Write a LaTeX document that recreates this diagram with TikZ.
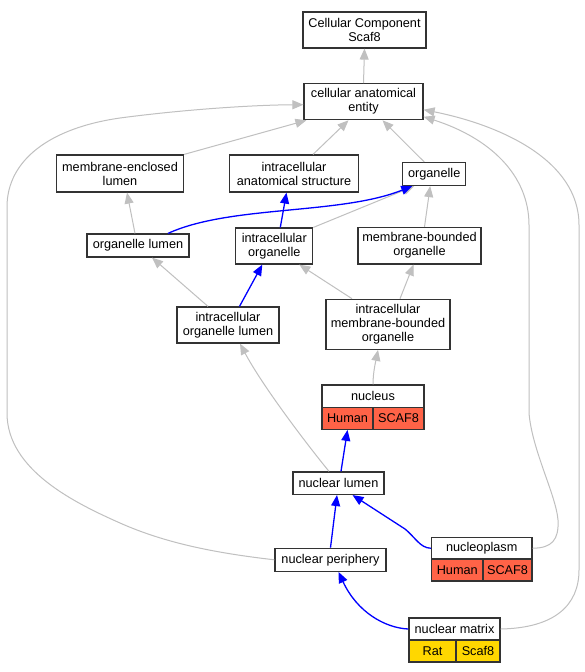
\documentclass[tikz,border=0pt]{standalone}
\usepackage{fontspec}
\setmainfont{Liberation Sans}
\usetikzlibrary{arrows.meta}
\definecolor{edgegray}{HTML}{C0C0C0}
\definecolor{tomatoc}{HTML}{FF6347}
\definecolor{goldc}{HTML}{FFD700}
\definecolor{boxline}{HTML}{333333}
\begin{document}
\begin{tikzpicture}[x=1pt,y=-1pt,
  box/.style={draw=boxline, line width=1.2pt, fill=white, inner sep=0pt, align=center,
    font=\fontsize{12.7}{14}\selectfont},
  cell/.style={box, font=\fontsize{12.7}{14}\selectfont},
  gedge/.style={draw=edgegray, line width=1pt, -{Triangle[length=11pt,width=9pt]}},
  bedge/.style={draw=blue, line width=1.3pt, -{Triangle[length=11pt,width=9pt]}}]
\path[use as bounding box, fill=white] (0,0) rectangle (584,672);

% plain nodes
\node[box, minimum width=123pt, minimum height=36pt] (CC) at (364.5,30) {Cellular Component\\Scaf8};
\node[box, minimum width=119pt, minimum height=36pt] (CAE) at (363.5,101.7) {cellular anatomical\\entity};
\node[box, minimum width=127pt, minimum height=37pt] (MEL) at (120,173.5) {membrane-enclosed\\lumen};
\node[box, minimum width=129pt, minimum height=37pt] (IAS) at (294,173.5) {intracellular\\anatomical structure};
\node[box, minimum width=63pt, minimum height=23pt] (ORG) at (434.2,174) {organelle};
\node[box, minimum width=102pt, minimum height=23pt] (OL) at (138,245.5) {organelle lumen};
\node[box, minimum width=77pt, minimum height=36pt] (IO) at (274.3,246) {intracellular\\organelle};
\node[box, minimum width=123pt, minimum height=36.5pt] (MBO) at (419.5,245.7) {membrane-bounded\\organelle};
\node[box, minimum width=102pt, minimum height=36pt] (IOL) at (228,325) {intracellular\\organelle lumen};
\node[box, minimum width=124pt, minimum height=50pt] (IMBO) at (388,324.3) {intracellular\\membrane-bounded\\organelle};
\node[box, minimum width=91pt, minimum height=22.5pt] (NL) at (338.5,483.2) {nuclear lumen};
\node[box, minimum width=111pt, minimum height=23pt] (NP) at (330.5,559.8) {nuclear periphery};

% table nodes
\node[box, minimum width=102pt, minimum height=22.7pt] (nucT) at (373,396.3) {nucleus};
\node[cell, fill=tomatoc, minimum width=51pt, minimum height=21.6pt] (nucH) at (347.5,418.5) {Human};
\node[cell, fill=tomatoc, minimum width=51pt, minimum height=21.6pt] (nucS) at (398.5,418.5) {SCAF8};

\node[box, minimum width=100.5pt, minimum height=21.5pt] (NPLT) at (481.75,548.25) {nucleoplasm};
\node[cell, fill=tomatoc, minimum width=51.5pt, minimum height=22pt] (NPLH) at (457.25,570) {Human};
\node[cell, fill=tomatoc, minimum width=49pt, minimum height=22pt] (NPLS) at (507.5,570) {SCAF8};

\node[box, minimum width=91pt, minimum height=22pt] (NMT) at (454.5,629) {nuclear matrix};
\node[cell, fill=goldc, minimum width=47pt, minimum height=22pt] (NMR) at (432.5,651) {Rat};
\node[cell, fill=goldc, minimum width=44pt, minimum height=22pt] (NMS) at (478,651) {Scaf8};

% gray edges
\draw[gedge] (CAE.north) -- (CC.south);
\draw[gedge] (MEL.north east) -- ([xshift=3pt]CAE.south west);
\draw[gedge] ([xshift=19pt]IAS.north) -- ([xshift=-15pt]CAE.south);
\draw[gedge] ([xshift=-10pt]ORG.north) -- ([xshift=19pt]CAE.south);
\draw[gedge] ([xshift=-3pt]OL.north) -- ([xshift=7pt]MEL.south);
\draw[gedge] (IO.north east) -- ([xshift=-20pt]ORG.south);
\draw[gedge] ([xshift=5pt]MBO.north) -- ([xshift=-4pt]ORG.south);
\draw[gedge] ([xshift=-20pt]IOL.north) -- ([xshift=14pt]OL.south);
\draw[gedge] ([xshift=-36pt]IMBO.north) -- ([xshift=25pt]IO.south);
\draw[gedge] ([xshift=12pt]IMBO.north) -- ([xshift=-6pt]MBO.south);
\draw[gedge] (nucT.north) .. controls (373,372) and (376,360) .. ([xshift=-10pt]IMBO.south);
\draw[gedge] ([xshift=-9.5pt]NL.north) .. controls (305,442) and (262,385) .. ([xshift=12pt]IOL.south);
\draw[gedge] (NP.west) .. controls (215,553) and (165,543) .. (120,523)
  .. controls (75,503) and (7,470) .. (7,413) -- (7,207)
  .. controls (7,160) and (50,128) .. (120,118)
  .. controls (180,110) and (250,105) .. ([yshift=-3pt]CAE.west);
\draw[gedge] (NPLT.east) .. controls (552,548) and (559,540) .. (558,520)
  .. controls (556,495) and (532,450) .. (529,413) -- (529,225)
  .. controls (529,175) and (490,138) .. ([yshift=-15pt]CAE.east);
\draw[gedge] (NMT.east) .. controls (555,628) and (579,605) .. (579,570) -- (579,225)
  .. controls (579,160) and (500,125) .. ([yshift=-8pt]CAE.east);

% blue edges
\draw[bedge] ([xshift=30pt]OL.north) .. controls (230,205) and (340,215) .. ([xshift=-22pt]ORG.south);
\draw[bedge] ([xshift=6pt]IO.north) -- ([xshift=-7.5pt]IAS.south);
\draw[bedge] ([xshift=11.5pt]IOL.north) -- ([xshift=-12pt]IO.south);
\draw[bedge] ([xshift=2.5pt]NL.north) -- (nucH.south);
\draw[bedge] (NP.north) -- ([xshift=-1.5pt]NL.south);
\draw[bedge] (NPLT.west) .. controls (420,548) and (415,537) .. (405,529) -- ([xshift=14pt]NL.south);
\draw[bedge] (NMT.west) .. controls (385,628) and (357,612) .. ([xshift=8pt]NP.south);
\end{tikzpicture}
\end{document}
